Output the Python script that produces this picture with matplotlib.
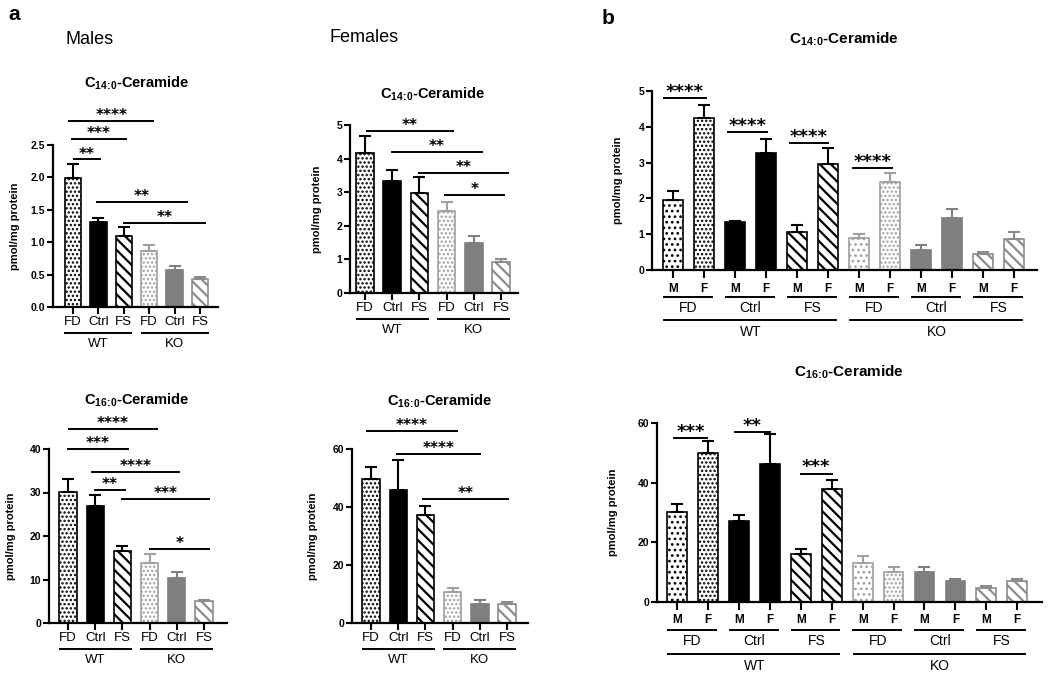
import matplotlib
matplotlib.use('Agg')
import matplotlib.pyplot as plt
import numpy as np

plt.rcParams['font.family'] = ['Liberation Sans', 'DejaVu Sans']
plt.rcParams['mathtext.fontset'] = 'custom'
plt.rcParams['mathtext.rm'] = 'Liberation Sans'
plt.rcParams['mathtext.bf'] = 'Liberation Sans:bold'
plt.rcParams['hatch.linewidth'] = 1.3

W, H = 1050, 677

# ---------------- data ----------------
diet_labels = ['FD', 'Ctrl', 'FS']
geno_labels = ['WT', 'KO']
sex_labels = ['M', 'F']

# panel a order: WT-FD, WT-Ctrl, WT-FS, KO-FD, KO-Ctrl, KO-FS
males_c14_mean = [1.99, 1.31, 1.10, 0.86, 0.57, 0.43]
males_c14_sem = [0.22, 0.07, 0.14, 0.10, 0.07, 0.03]
females_c14_mean = [4.18, 3.33, 2.98, 2.45, 1.50, 0.91]
females_c14_sem = [0.48, 0.33, 0.48, 0.26, 0.20, 0.10]
males_c16_mean = [30.1, 27.0, 16.6, 13.9, 10.3, 5.0]
males_c16_sem = [3.1, 2.5, 1.0, 2.0, 1.4, 0.4]
females_c16_mean = [49.7, 45.8, 37.3, 10.7, 6.7, 6.7]
females_c16_sem = [4.0, 10.3, 2.9, 1.2, 1.4, 0.7]

# panel b order: WT FD M/F, WT Ctrl M/F, WT FS M/F, KO FD M/F, KO Ctrl M/F, KO FS M/F
sex_c14_mean = [1.95, 4.25, 1.33, 3.28, 1.07, 2.96, 0.88, 2.46, 0.56, 1.46, 0.44, 0.86]
sex_c14_sem = [0.26, 0.37, 0.05, 0.37, 0.19, 0.44, 0.12, 0.25, 0.14, 0.24, 0.05, 0.21]
sex_c16_mean = [30.1, 50.1, 27.0, 46.1, 16.2, 37.8, 13.2, 10.0, 10.0, 7.0, 4.7, 7.0]
sex_c16_sem = [2.9, 3.8, 2.2, 10.1, 1.6, 3.0, 2.3, 1.6, 1.6, 0.7, 0.7, 0.8]

# significance: (from bar index, to bar index, y, label)
males_c14_sig = [(0.04, 1.06, 2.28, '**'), (-0.05, 2.09, 2.59, '***'),
                 (-0.15, 3.16, 2.87, '****'), (0.93, 4.48, 1.62, '**'),
                 (2.0, 5.2, 1.30, '**')]
females_c14_sig = [(0.07, 3.24, 4.82, '**'), (1.0, 4.3, 4.2, '**'),
                   (2.0, 5.25, 3.57, '**'), (2.93, 5.1, 2.92, '*')]
males_c16_sig = [(0.04, 3.27, 44.6, '****'), (-0.01, 2.2, 40.0, '***'),
                 (0.9, 4.1, 34.7, '****'), (1.0, 2.1, 30.6, '**'),
                 (2.0, 5.2, 28.5, '***'), (3.0, 5.2, 17.0, '*')]
females_c16_sig = [(-0.15, 3.16, 66.2, '****'), (0.96, 4.0, 58.3, '****'),
                   (1.9, 5.04, 42.8, '**')]
sex_c14_sig = [(-0.3, 1.06, 4.8, '****'), (1.77, 3.03, 3.85, '****'),
               (3.77, 5.0, 3.55, '****'), (5.8, 7.06, 2.85, '****')]
sex_c16_sig = [(-0.1, 0.97, 55, '***'), (1.88, 3.0, 57, '**'),
               (4.0, 5.0, 43, '***')]

# ---------------- styles ----------------
GRAY_SOLID = '#7f7f7f'
GRAY_DOT = '#a0a0a0'
GRAY_STRIPE = '#8c8c8c'


def bar_style(geno, diet, dots='....'):
    if diet == 0:
        return dict(face='white', edge='black' if geno == 0 else GRAY_DOT,
                    hatch=dots, hlw=1.15)
    if diet == 1:
        c = 'black' if geno == 0 else GRAY_SOLID
        return dict(face=c, edge=c, hatch=None, hlw=1.0)
    return dict(face='white', edge='black' if geno == 0 else GRAY_STRIPE,
                hatch='\\\\\\', hlw=1.6)


styles_a = [bar_style(g, d) for g in range(2) for d in range(3)]
styles_b = [bar_style(g, d, dots=('...' if s == 0 else '....'))
            for g in range(2) for d in range(3) for s in range(2)]

fig = plt.figure(figsize=(W / 100, H / 100), dpi=100)


def px_rect(l, r, t, b):
    return [l / W, 1 - b / H, (r - l) / W, (b - t) / H]


def setup_axis(rect_px, xlim, ymax, ystep, yfmt, ylabel_x_px):
    l, r, t, b = rect_px
    ax = fig.add_axes(px_rect(l, r, t, b))
    ax.set_xlim(*xlim)
    ax.set_ylim(0, ymax)
    ax.spines['top'].set_visible(False)
    ax.spines['right'].set_visible(False)
    for s in ('left', 'bottom'):
        ax.spines[s].set_linewidth(1.6)
    yt = np.arange(0, ymax + ystep / 2, ystep)
    ax.set_yticks(yt, labels=[yfmt.format(v) for v in yt])
    ax.tick_params(axis='y', length=4, width=1.5, labelsize=7.5, pad=1.5)
    for lab in ax.get_yticklabels():
        lab.set_fontweight('bold')
    ax.set_ylabel('pmol/mg protein', fontsize=8, fontweight='bold')
    ax.yaxis.set_label_coords((ylabel_x_px - l) / (r - l), 0.5)
    ax.patch.set_alpha(0)
    return ax


def draw_bars(ax, means, sems, styles, width):
    x = np.arange(len(means))
    for xi, m, s, st in zip(x, means, sems, styles):
        bc = ax.bar(xi, m, width=width, color=st['face'], edgecolor=st['edge'],
                    hatch=st['hatch'], linewidth=1.2, zorder=2)
        for p in bc.patches:
            if hasattr(p, 'set_hatch_linewidth'):
                p.set_hatch_linewidth(st['hlw'])
        ax.errorbar(xi, m, yerr=[[0], [s]], fmt='none', ecolor=st['edge'],
                    elinewidth=1.5, capsize=4.5, capthick=1.5, zorder=3)
    return x


def draw_sig(ax, sig, fs, off):
    for x0, x1, y, lab in sig:
        ax.plot([x0, x1], [y, y], color='black', lw=1.4, clip_on=False, zorder=4)
        ax.annotate(lab, xy=((x0 + x1) / 2, y), xytext=(0, off),
                    textcoords='offset points', ha='center', va='baseline',
                    fontsize=fs, fontweight='bold', family='DejaVu Sans',
                    annotation_clip=False)


def group_line(ax, x0, x1, off_px, h_px):
    y = -off_px / h_px
    ax.plot([x0, x1], [y, y], color='black', lw=1.4,
            transform=ax.get_xaxis_transform(), clip_on=False)


def group_text(ax, x, txt, off_px, h_px, fs):
    y = -off_px / h_px
    ax.text(x, y, txt, ha='center', va='center', fontsize=fs,
            transform=ax.get_xaxis_transform(), clip_on=False)


def panel_a(rect_px, xlim, ymax, ystep, yfmt, ylab_x, means, sems, sig, title, title_xy):
    ax = setup_axis(rect_px, xlim, ymax, ystep, yfmt, ylab_x)
    h = rect_px[3] - rect_px[2]
    x = draw_bars(ax, means, sems, styles_a, 0.64)
    ax.set_xticks(x, labels=diet_labels * 2)
    ax.tick_params(axis='x', length=5, width=1.5, labelsize=9.5, pad=1.5)
    for g in range(2):
        group_line(ax, 3 * g - 0.3, 3 * g + 2.3, 26, h)
        group_text(ax, 3 * g + 1, geno_labels[g], 37, h, 9.5)
    draw_sig(ax, sig, 11, 0.5)
    fig.text(title_xy[0] / W, 1 - title_xy[1] / H, title, ha='center', va='center',
             fontsize=10.5, fontweight='bold')
    return ax


def panel_b(rect_px, xlim, ymax, ystep, ylab_x, means, sems, sig, title, title_xy, offs):
    ax = setup_axis(rect_px, xlim, ymax, ystep, '{:.0f}', ylab_x)
    h = rect_px[3] - rect_px[2]
    x = draw_bars(ax, means, sems, styles_b, 0.64)
    ax.set_xticks(x, labels=sex_labels * 6)
    ax.tick_params(axis='x', length=6, width=1.5, labelsize=8.5, pad=offs[0])
    for lab in ax.get_xticklabels():
        lab.set_fontweight('bold')
    for k in range(6):
        group_line(ax, 2 * k - 0.3, 2 * k + 1.25, offs[1], h)
        group_text(ax, 2 * k + 0.5, diet_labels[k % 3], offs[2], h, 10)
    for g in range(2):
        group_line(ax, 6 * g - 0.28, 6 * g + 5.25, offs[3], h)
        group_text(ax, 6 * g + 2.5, geno_labels[g], offs[4], h, 10)
    draw_sig(ax, sig, 13, 1)
    fig.text(title_xy[0] / W, 1 - title_xy[1] / H, title, ha='center', va='center',
             fontsize=11, fontweight='bold')
    return ax


t14 = r'C$_{\mathbf{14\!:\!0}}$-Ceramide'
t16 = r'C$_{\mathbf{16\!:\!0}}$-Ceramide'

panel_a((53, 218, 145, 307), (-0.79, 5.71), 2.5, 0.5, '{:.1f}', 20,
        males_c14_mean, males_c14_sem, males_c14_sig, t14, (137, 83))
panel_a((350, 518, 125, 293), (-0.55, 5.62), 5, 1, '{:.0f}', 322,
        females_c14_mean, females_c14_sem, females_c14_sig, t14, (433, 94))
panel_a((49, 227, 449, 623), (-0.70, 5.85), 40, 10, '{:.0f}', 16,
        males_c16_mean, males_c16_sem, males_c16_sig, t16, (137, 400))
panel_a((352, 528, 449, 623), (-0.70, 5.77), 60, 20, '{:.0f}', 318,
        females_c16_mean, females_c16_sem, females_c16_sig, t16, (440, 401))

panel_b((652, 1037, 91, 270), (-0.68, 11.74), 5, 1, 623,
        sex_c14_mean, sex_c14_sem, sex_c14_sig, t14, (844, 39), (3.5, 27, 38, 50, 62))
panel_b((657, 1042, 423, 602), (-0.65, 11.8), 60, 20, 618,
        sex_c16_mean, sex_c16_sem, sex_c16_sig, t16, (849, 372), (2.5, 28, 39, 52, 64))

fig.text(14 / W, 1 - 15 / H, 'a', ha='center', va='center', fontsize=15, fontweight='bold')
fig.text(608 / W, 1 - 18 / H, 'b', ha='center', va='center', fontsize=15, fontweight='bold')
fig.text(90 / W, 1 - 40 / H, 'Males', ha='center', va='center', fontsize=13)
fig.text(364 / W, 1 - 38 / H, 'Females', ha='center', va='center', fontsize=13)

fig.savefig('out.png', dpi=100)
